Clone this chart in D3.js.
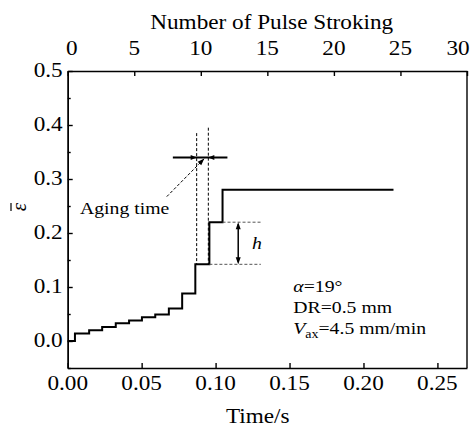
<!DOCTYPE html>
<html lang="en">
<head>
<meta charset="utf-8">
<title>Strain vs time</title>
<script src="https://d3js.org/d3.v7.min.js"></script>
<style>
  body { margin: 0; background: #fff; }
</style>
</head>
<body>
<div id="chart"></div>
<script>

/* data */
var stepTimes   = [0, 0.0049, 0.0145, 0.0233, 0.0325, 0.0415, 0.0502, 0.0592, 0.0684, 0.0774, 0.0863, 0.0958, 0.1047, 0.2203];
var strainSteps = [0, 0.014, 0.020, 0.026, 0.033, 0.038, 0.044, 0.049, 0.060, 0.088, 0.142, 0.220, 0.280, 0.280];

var timeTicks   = [0, 0.05, 0.10, 0.15, 0.20, 0.25];
var pulseTicks  = [0, 5, 10, 15, 20, 25, 30];
var strainTicks = [0.0, 0.1, 0.2, 0.3, 0.4, 0.5];
var strainMinor = [-0.05, 0.05, 0.15, 0.25, 0.35, 0.45];

// annotation anchors (data units)
var agingLines  = [0.0872, 0.0951];
var agingTops   = [0.385, 0.395];
var agingBar    = {t0: 0.0711, t1: 0.108, e: 0.34};
var agingArrow  = {t0: 0.067, e0: 0.2674, t1: 0.0924, e1: 0.3378};
var hLevels     = [0.220, 0.142];
var hStart      = [0.1047, 0.0958];
var hEnd        = 0.1306;
var hArrowT     = 0.1153;

var legendLines = ["α=19°", "DR=0.5 mm", "Vax=4.5 mm/min"];

var FONT = '"Liberation Serif", "Times New Roman", Times, "DejaVu Serif", serif';

/* svg */
var w = 476, h = 427;
var margin = {top: 71, right: 9, bottom: 59, left: 67.7};
var innerWidth = w - margin.left - margin.right;
var innerHeight = h - margin.top - margin.bottom;
var SX = 1.16; // the source type is a little wide

var root = d3.select("#chart").append("svg")
    .attr("width", w)
    .attr("height", h)
    .style("font-family", FONT);

var svg = root.append("g")
    .attr("transform", `translate(${margin.left},${margin.top})`);

var xScale = d3.scaleLinear().domain([0, 0.27]).range([0, innerWidth]);
var topScale = d3.scaleLinear().domain([0, 30]).range([0, innerWidth]);
var yScale = d3.scaleLinear().domain([-0.05, 0.5]).range([innerHeight, 0]);

// page coordinates of a plot position
function px(v) { return margin.left + v; }
function py(v) { return margin.top + v; }

// stretch text a little sideways, keeping its anchor
function widen(sel) {
  sel.each(function() {
    var len = this.getComputedTextLength();
    d3.select(this)
      .attr("textLength", (len * SX).toFixed(1))
      .attr("lengthAdjust", "spacingAndGlyphs");
  });
}

/* axes (lines and ticks) */
svg.append("g")
    .call(d3.axisLeft(yScale).tickValues(strainTicks).tickFormat("")
      .tickSize(-5).tickSizeOuter(0));
svg.append("g")
    .call(d3.axisLeft(yScale).tickValues(strainMinor).tickFormat("")
      .tickSize(-3).tickSizeOuter(0));
svg.append("g")
    .attr("transform", `translate(0,${innerHeight})`)
    .call(d3.axisBottom(xScale).tickValues(timeTicks).tickFormat("")
      .tickSize(-5).tickSizeOuter(0));
svg.append("g")
    .call(d3.axisTop(topScale).tickValues(pulseTicks).tickFormat("")
      .tickSize(-5).tickSizeOuter(0));

svg.selectAll(".domain, .tick line").attr("stroke", "#000").attr("stroke-width", 1.4);
svg.selectAll(".tick text").remove();

// right side of the frame
svg.append("line")
    .attr("x1", innerWidth).attr("x2", innerWidth)
    .attr("y1", 0).attr("y2", innerHeight)
    .attr("stroke", "#000").attr("stroke-width", 1.4);

/* tick labels, placed in page coordinates */
var labels = root.append("g").style("font-size", "20px");

labels.selectAll(".ylab").data(strainTicks).enter().append("text")
    .attr("class", "ylab")
    .attr("x", px(-5))
    .attr("y", function(d) { return py(yScale(d)); })
    .attr("dy", "0.32em")
    .attr("text-anchor", "end")
    .text(d3.format(".1f"));

labels.selectAll(".xlab").data(timeTicks).enter().append("text")
    .attr("class", "xlab")
    .attr("x", function(d) { return px(xScale(d)); })
    .attr("y", py(innerHeight + 8))
    .attr("dy", "0.71em")
    .attr("text-anchor", "middle")
    .text(d3.format(".2f"));

labels.selectAll(".tlab").data(pulseTicks).enter().append("text")
    .attr("class", "tlab")
    .attr("x", function(d) { return px(topScale(d)) + (d == 0 ? 4 : (d == 30 ? -9 : 0)); })
    .attr("y", py(-16))
    .attr("text-anchor", "middle")
    .text(d3.format("d"));

labels.selectAll("text").call(widen);

/* axis titles */
root.append("text")
    .attr("x", 271.7).attr("y", 28.5)
    .attr("text-anchor", "middle")
    .style("font-size", "20px")
    .text("Number of Pulse Stroking")
    .call(widen);

root.append("text")
    .attr("x", 257.7).attr("y", 423)
    .attr("text-anchor", "middle")
    .style("font-size", "20px")
    .text("Time/s")
    .call(widen);

// y title: epsilon with a bar, turned on its side
root.append("text")
    .attr("x", 26).attr("y", 207)
    .attr("transform", "rotate(-90,26,207)")
    .attr("text-anchor", "middle")
    .style("font-size", "21px")
    .style("font-style", "italic")
    .text("ε");
root.append("line")
    .attr("x1", 11).attr("x2", 11)
    .attr("y1", 203).attr("y2", 211)
    .attr("stroke", "#000").attr("stroke-width", 1.2);

/* curve */
var pts = stepTimes.map(function(t, i) { return [t, strainSteps[i]]; });
var line = d3.line()
    .x(function(d) { return xScale(d[0]); })
    .y(function(d) { return yScale(d[1]); })
    .curve(d3.curveStepAfter);

svg.append("path")
    .datum(pts)
    .attr("d", line)
    .attr("fill", "none")
    .attr("stroke", "#000")
    .attr("stroke-width", 2);

/* aging time annotation */
var ann = svg.append("g").attr("stroke", "#000").attr("fill", "none");

agingLines.forEach(function(t, i) {
  ann.append("line")
      .attr("x1", xScale(t)).attr("x2", xScale(t))
      .attr("y1", yScale(agingTops[i])).attr("y2", yScale(0.142))
      .attr("stroke-width", 1)
      .attr("stroke-dasharray", "3,2");
});

ann.append("line")
    .attr("x1", xScale(agingBar.t0)).attr("x2", xScale(agingBar.t1))
    .attr("y1", yScale(agingBar.e)).attr("y2", yScale(agingBar.e))
    .attr("stroke-width", 2);

// small arrow heads pointing at the dashed lines
function head(x, y, dir, len, half) {
  return `M${x},${y}L${x - dir * len},${y - half}L${x - dir * len},${y + half}Z`;
}
svg.append("path")
    .attr("d", head(xScale(agingLines[0]), yScale(agingBar.e), 1, 6, 2.5))
    .attr("fill", "#000");
svg.append("path")
    .attr("d", head(xScale(agingLines[1]), yScale(agingBar.e), -1, 6, 2.5))
    .attr("fill", "#000");

var ax0 = xScale(agingArrow.t0), ay0 = yScale(agingArrow.e0);
var ax1 = xScale(agingArrow.t1), ay1 = yScale(agingArrow.e1);
ann.append("line")
    .attr("x1", ax0).attr("y1", ay0)
    .attr("x2", ax1).attr("y2", ay1)
    .attr("stroke-width", 1)
    .attr("stroke-dasharray", "3,2");
var ang = Math.atan2(ay1 - ay0, ax1 - ax0) * 180 / Math.PI;
svg.append("path")
    .attr("d", head(0, 0, 1, 7, 2.5))
    .attr("transform", `translate(${ax1},${ay1}) rotate(${ang})`)
    .attr("fill", "#000");

root.append("text")
    .attr("x", px(xScale(0.0083))).attr("y", py(yScale(0.2346)))
    .style("font-size", "17px")
    .text("Aging time")
    .call(widen);

/* h annotation */
hLevels.forEach(function(e, i) {
  ann.append("line")
      .attr("x1", xScale(hStart[i])).attr("x2", xScale(hEnd))
      .attr("y1", yScale(e)).attr("y2", yScale(e))
      .attr("stroke", "#555")
      .attr("stroke-width", 1)
      .attr("stroke-dasharray", "3,2");
});
var hx = xScale(hArrowT);
ann.append("line")
    .attr("x1", hx).attr("x2", hx)
    .attr("y1", yScale(hLevels[0]) + 2).attr("y2", yScale(hLevels[1]) - 2)
    .attr("stroke-width", 1.5);
svg.append("path")
    .attr("d", head(hx, yScale(hLevels[0]), 1, 7, 2.5))
    .attr("transform", `rotate(-90,${hx},${yScale(hLevels[0])})`)
    .attr("fill", "#000");
svg.append("path")
    .attr("d", head(hx, yScale(hLevels[1]), 1, 7, 2.5))
    .attr("transform", `rotate(90,${hx},${yScale(hLevels[1])})`)
    .attr("fill", "#000");

root.append("text")
    .attr("x", px(xScale(0.1247))).attr("y", py(yScale(0.170)))
    .style("font-size", "17px")
    .style("font-style", "italic")
    .text("h")
    .call(widen);

/* parameters */
var legX = 293.3, legY = 291.7;

var t0 = root.append("text").attr("class", "leg")
    .attr("x", legX).attr("y", legY).style("font-size", "17px");
t0.append("tspan").style("font-style", "italic").text(legendLines[0].slice(0, 1));
t0.append("tspan").text(legendLines[0].slice(1));

root.append("text").attr("class", "leg")
    .attr("x", legX).attr("y", legY + 21).style("font-size", "17px")
    .text(legendLines[1]);

var t2 = root.append("text").attr("class", "leg")
    .attr("x", legX).attr("y", legY + 42.3).style("font-size", "17px");
t2.append("tspan").style("font-style", "italic").text(legendLines[2].slice(0, 1));
t2.append("tspan").attr("dy", 4).style("font-size", "12px").text(legendLines[2].slice(1, 3));
t2.append("tspan").attr("dy", -4).text(legendLines[2].slice(3));

root.selectAll(".leg").call(widen);

root.selectAll("text").attr("fill", "#000");

</script>
</body>
</html>
